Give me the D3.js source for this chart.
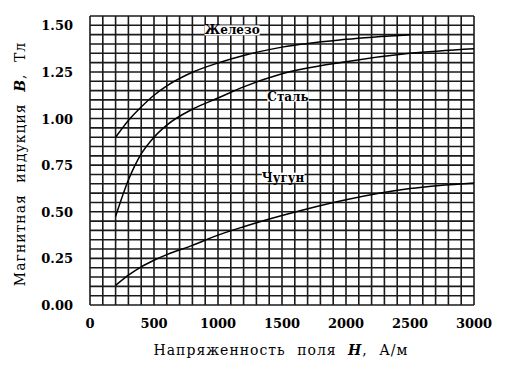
<!DOCTYPE html>
<html><head><meta charset="utf-8">
<script src="https://cdn.jsdelivr.net/npm/d3@7/dist/d3.min.js"></script>
<style>body{margin:0;background:#fff}svg{display:block}</style>
</head><body><svg id="c" width="509" height="370"></svg>
<script>
const H = [200, 300, 400, 500, 600, 800, 1000, 1200, 1500, 2000, 2500, 3000];
const iron = [0.90, 0.99, 1.062, 1.125, 1.175, 1.248, 1.298, 1.338, 1.383, 1.425, 1.45];
const steel = [0.475, 0.67, 0.81, 0.90, 0.965, 1.05, 1.11, 1.17, 1.24, 1.305, 1.35, 1.375];
const castIron = [0.105, 0.16, 0.205, 0.24, 0.27, 0.32, 0.375, 0.42, 0.48, 0.565, 0.625, 0.655];
const xTicks = [0, 500, 1000, 1500, 2000, 2500, 3000];
const yTicks = [0, 0.25, 0.5, 0.75, 1.0, 1.25, 1.5];
const labels = [
  {text: "Железо", h: 1110, b: 1.473},
  {text: "Сталь", h: 1547, b: 1.118},
  {text: "Чугун", h: 1508, b: 0.683}
];
const xTitle = "Напряженность поля ";
const yTitle = "Магнитная индукция ";

const svg = d3.select("#c");
const m = {l: 90, r: 35, t: 16, b: 65};
const W = 509, Hh = 370;
const x = d3.scaleLinear().domain([0, 3000]).range([m.l, W - m.r]);
const y = d3.scaleLinear().domain([0, 1.55]).range([Hh - m.b, m.t]);

const g = svg.append("g");
const gridColor = "#1a1a1a";
g.selectAll("line.v").data(d3.range(0, 3001, 100)).enter().append("line")
  .attr("x1", d => x(d)).attr("x2", d => x(d)).attr("y1", y(0)).attr("y2", y(1.55))
  .attr("stroke", gridColor).attr("stroke-width", 1.6);
g.selectAll("line.h").data(d3.range(0, 32).map(i => i * 0.05)).enter().append("line")
  .attr("y1", d => y(d)).attr("y2", d => y(d)).attr("x1", x(0)).attr("x2", x(3000))
  .attr("stroke", gridColor).attr("stroke-width", 1.6);

const font = "'DejaVu Serif', serif";
// ticks
svg.selectAll("text.xt").data(xTicks).enter().append("text")
  .attr("x", d => x(d)).attr("y", y(0) + 23).attr("text-anchor", "middle")
  .attr("font-family", font).attr("font-weight", "bold").attr("font-size", 13)
  .text(d => d);
svg.selectAll("text.yt").data(yTicks).enter().append("text")
  .attr("x", x(0) - 17).attr("y", d => y(d) + 5).attr("text-anchor", "end")
  .attr("font-family", font).attr("font-weight", "bold").attr("font-size", 13)
  .text(d => d.toFixed(2));

// curves
const line = d3.line().curve(d3.curveMonotoneX);
[iron, steel, castIron].forEach(s => {
  svg.append("path").datum(s.map((v, i) => [x(H[i]), y(v)]))
    .attr("d", line).attr("fill", "none").attr("stroke", "#000").attr("stroke-width", 1.5);
});

// labels
labels.forEach(lb => {
  const t = svg.append("text").attr("x", x(lb.h)).attr("y", y(lb.b) + 4)
    .attr("text-anchor", "middle").attr("font-family", font).attr("font-weight", "bold")
    .attr("font-size", 12).text(lb.text);
  const bb = t.node().getBBox();
  svg.insert("rect", () => t.node()).attr("x", bb.x).attr("y", bb.y + 2)
    .attr("width", bb.width).attr("height", bb.height - 4).attr("fill", "#fff");
});

// axis titles
const xt = svg.append("text").attr("x", (x(0) + x(3000)) / 2 - 1).attr("y", 355)
  .attr("text-anchor", "middle").attr("font-family", font).attr("font-size", 14)
  .attr("letter-spacing", 1).attr("word-spacing", 6);
xt.append("tspan").text(xTitle);
xt.append("tspan").attr("font-style", "italic").attr("font-weight", "bold").text("H");
xt.append("tspan").text(", А/м");

const yt = svg.append("text").attr("transform", "translate(25,164) rotate(-90)")
  .attr("text-anchor", "middle").attr("font-family", font).attr("font-size", 14)
  .attr("letter-spacing", 1).attr("word-spacing", 6);
yt.append("tspan").text(yTitle);
yt.append("tspan").attr("font-style", "italic").attr("font-weight", "bold").text("B");
yt.append("tspan").text(", Тл");
</script></body></html>
